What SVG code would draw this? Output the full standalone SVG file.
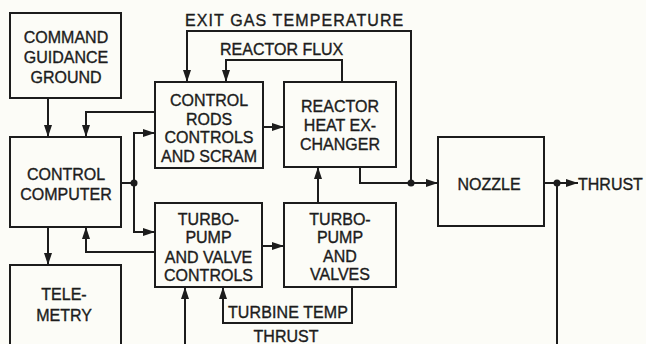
<svg xmlns="http://www.w3.org/2000/svg" width="646" height="344" viewBox="0 0 646 344">
<style>
.bg{fill:#fcfcf7}
.box{fill:none;stroke:#1c1c1c;stroke-width:2}
.ln{fill:none;stroke:#1c1c1c;stroke-width:2}
.t{font-family:"Liberation Sans",Arial,sans-serif;font-size:16px;fill:#1c1c1c;text-anchor:middle;stroke:#1c1c1c;stroke-width:0.35}
.l{text-anchor:start}
.dot{fill:#1c1c1c}
</style>
<defs>
<marker id="ah" markerUnits="userSpaceOnUse" markerWidth="13" markerHeight="9" refX="12" refY="4.5" orient="auto">
<path d="M0,0.5 L12,4.5 L0,8.5 z" fill="#1c1c1c"/>
</marker>
</defs>
<rect class="bg" x="0" y="0" width="646" height="344"/>
<g id="command">
<rect class="box" x="10" y="13" width="111" height="85"/>
<text class="t" x="66" y="43">COMMAND</text>
<text class="t" x="66" y="63">GUIDANCE</text>
<text class="t" x="66" y="83">GROUND</text>
</g>
<g id="computer">
<rect class="box" x="10" y="137" width="111" height="90"/>
<text class="t" x="66" y="180">CONTROL</text>
<text class="t" x="66" y="200">COMPUTER</text>
</g>
<g id="telemetry">
<rect class="box" x="10" y="265" width="111" height="95"/>
<text class="t" x="64" y="300">TELE-</text>
<text class="t" x="64" y="321">METRY</text>
</g>
<g id="rods">
<rect class="box" x="155" y="82" width="108" height="86"/>
<text class="t" x="209" y="106">CONTROL</text>
<text class="t" x="209" y="124.5">RODS</text>
<text class="t" x="209" y="143">CONTROLS</text>
<text class="t" x="209" y="161.5">AND SCRAM</text>
</g>
<g id="reactor">
<rect class="box" x="284" y="82" width="112" height="85"/>
<text class="t" x="340" y="112">REACTOR</text>
<text class="t" x="340" y="131">HEAT EX-</text>
<text class="t" x="340" y="150">CHANGER</text>
</g>
<g id="tpcontrols">
<rect class="box" x="155" y="203" width="107" height="84"/>
<text class="t" x="208.5" y="225">TURBO-</text>
<text class="t" x="208.5" y="243">PUMP</text>
<text class="t" x="208.5" y="263">AND VALVE</text>
<text class="t" x="208.5" y="281">CONTROLS</text>
</g>
<g id="tpvalves">
<rect class="box" x="284" y="203" width="112" height="84"/>
<text class="t" x="340" y="225">TURBO-</text>
<text class="t" x="340" y="243">PUMP</text>
<text class="t" x="340" y="262">AND</text>
<text class="t" x="340" y="280">VALVES</text>
</g>
<g id="nozzle">
<rect class="box" x="438" y="137" width="106" height="89"/>
<text class="t" x="489" y="190">NOZZLE</text>
</g>
<g id="connectors">
<path class="ln" marker-end="url(#ah)" d="M48,98 V137"/>
<path class="ln" marker-end="url(#ah)" d="M155,112 H86 V137"/>
<path class="ln" d="M121,183 H134"/>
<path class="ln" marker-end="url(#ah)" d="M134,183 V133 H155"/>
<path class="ln" marker-end="url(#ah)" d="M134,183 V232 H155"/>
<circle class="dot" cx="134" cy="183" r="3.5"/>
<path class="ln" marker-end="url(#ah)" d="M155,252 H86 V227"/>
<path class="ln" marker-end="url(#ah)" d="M48,227 V265"/>
<path class="ln" marker-end="url(#ah)" d="M263,127 H284"/>
<path class="ln" marker-end="url(#ah)" d="M262,246 H284"/>
<path class="ln" marker-end="url(#ah)" d="M318,203 V167"/>
<path class="ln" marker-end="url(#ah)" d="M360,167 V183 H438"/>
<circle class="dot" cx="411" cy="183" r="3.5"/>
<path class="ln" marker-end="url(#ah)" d="M411,183 V31 H187 V82"/>
<path class="ln" marker-end="url(#ah)" d="M342,82 V60 H226 V82"/>
<path class="ln" marker-end="url(#ah)" d="M544,183 H578"/>
<circle class="dot" cx="557" cy="183" r="3.5"/>
<path class="ln" d="M557,183 V344"/>
<path class="ln" marker-end="url(#ah)" d="M185,344 V287"/>
<path class="ln" marker-end="url(#ah)" d="M352,287 V323 H223 V287"/>
</g>
<g id="labels">
<text class="t l" x="185" y="25.5" letter-spacing="1.1">EXIT GAS TEMPERATURE</text>
<text class="t l" x="220" y="54.5">REACTOR FLUX</text>
<text class="t l" x="578" y="190">THRUST</text>
<text class="t l" x="228" y="318" font-size="15" letter-spacing="0.1">TURBINE TEMP</text>
<text class="t" x="286" y="342">THRUST</text>
</g>
</svg>
